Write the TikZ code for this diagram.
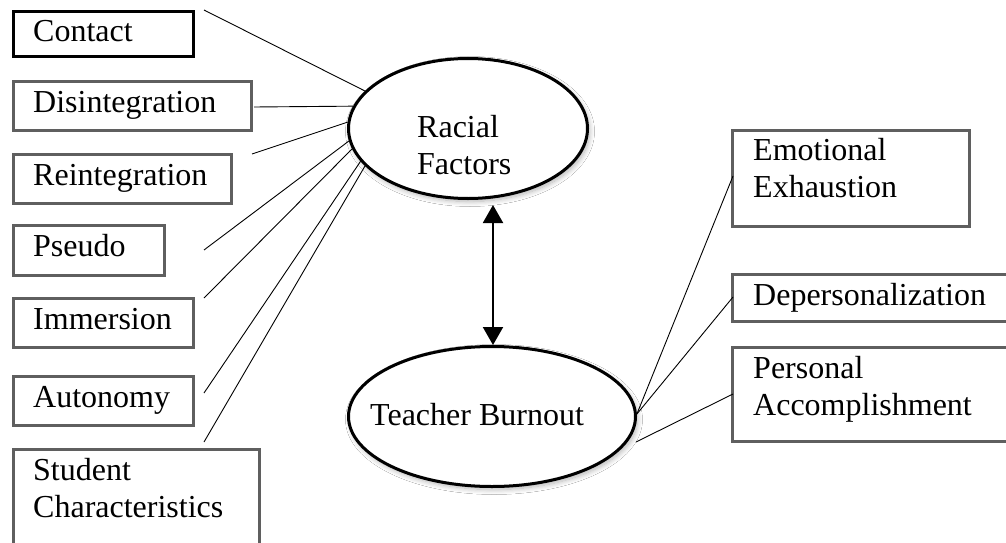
\documentclass[tikz,border=0pt]{standalone}
\usepackage{fontspec}
\setmainfont{Liberation Serif}
\usetikzlibrary{arrows.meta,shapes.geometric,calc,shadows.blur}
\definecolor{boxgray}{RGB}{95,95,95}
\begin{document}
\begin{tikzpicture}[x=1pt,y=-1pt,
  gbox/.style={draw=boxgray, line width=2.6pt, inner sep=0pt, outer sep=0pt, fill=white},
  kbox/.style={draw=black, line width=3pt, inner sep=0pt, outer sep=0pt, fill=white},
  lbl/.style={anchor=base west, inner sep=0pt, font=\fontsize{32}{37}\selectfont},
  oval/.style={ellipse, draw=black, line width=3pt, fill=white, inner sep=0pt,
    blur shadow={shadow xshift=2pt, shadow yshift=-3pt, shadow blur steps=10, shadow opacity=30, shadow blur radius=5pt}},
  conn/.style={draw=black, line width=0.9pt},
  dbl/.style={draw=black, line width=2pt, {Triangle[width=20pt,length=18pt]}-{Triangle[width=20pt,length=18pt]}}
]
\useasboundingbox (0,0) rectangle (1006,543);
\clip (0,0) rectangle (1006,543);
\fill[white] (0,0) rectangle (1006,543);

% left boxes
\node[kbox, minimum width=180pt, minimum height=45pt] (contact) at (103.5,34) {};
\node[gbox, minimum width=238.4pt, minimum height=49.4pt] (disint) at (132.5,106) {};
\node[gbox, minimum width=218.4pt, minimum height=49.4pt] (reint) at (122.5,179) {};
\node[gbox, minimum width=151.4pt, minimum height=50.4pt] (pseudo) at (89,250.5) {};
\node[gbox, minimum width=180.4pt, minimum height=49.4pt] (immersion) at (103.5,323) {};
\node[gbox, minimum width=180.4pt, minimum height=49.4pt] (autonomy) at (103.5,401) {};
\node[gbox, minimum width=246.4pt, minimum height=109.4pt] (student) at (136.5,504) {};

% right boxes
\node[gbox, minimum width=237.4pt, minimum height=96.4pt] (emot) at (851,178.5) {};
\node[gbox, minimum width=286.4pt, minimum height=47.4pt] (depers) at (875.5,298) {};
\node[gbox, minimum width=286.4pt, minimum height=94.4pt] (personal) at (875.5,394.5) {};

% labels
\node[lbl] (tcontact) at (33,42) {Contact};
\node[lbl] (tdisint) at (33,112) {Disintegration};
\node[lbl] (treint) at (33,185) {Reintegration};
\node[lbl] (tpseudo) at (33,256) {Pseudo};
\node[lbl] (timmersion) at (33,329) {Immersion};
\node[lbl] (tautonomy) at (33,407) {Autonomy};
\node[lbl] (tstudent) at (33,480) {\vtop{\hbox{Student}\hbox{Characteristics}}};
\node[lbl] (temot) at (753,160) {\vtop{\hbox{Emotional}\hbox{Exhaustion}}};
\node[lbl] (tdepers) at (753,305) {Depersonalization};
\node[lbl] (tpersonal) at (753,378) {\vtop{\hbox{Personal}\hbox{Accomplishment}}};

% ellipses
\node[oval, minimum width=239pt, minimum height=140pt] (racial) at (468,128.5) {};
\node[oval, minimum width=287pt, minimum height=140pt] (teacher) at (492,416.5) {};
\node[lbl] (tracial) at (417,137) {\vtop{\hbox{Racial}\hbox{Factors}}};
\node[lbl] (tteacher) at (370,425) {Teacher Burnout};

% connectors left
\draw[conn] ($(contact.north east)+(10.5,-1.5)$) -- (racial.160.8);
\draw[conn] ($(disint.east)+(2.3,1)$) -- (racial.169.5);
\draw[conn] ($(reint.north east)+(20.3,-0.3)$) -- (racial.177.4);
\draw[conn] ($(pseudo.east)+(39.3,-0.5)$) -- (racial.186.5);
\draw[conn] ($(immersion.north east)+(10.3,-0.3)$) -- (racial.190.5);
\draw[conn] ($(autonomy.east)+(10.3,-8)$) -- (racial.197.7);
\draw[conn] ($(student.north east)+(-55.7,-7.3)$) -- (racial.200.5);

% connectors right
\draw[conn] (teacher.1.8) -- ($(emot.west)+(0.7,-2.5)$);
\draw[conn] (teacher.1.8) -- ($(depers.west)+(0.7,-1)$);
\draw[conn] ($(teacher.east)+(-1,25.5)$) -- ($(personal.west)+(0.7,-0.5)$);

% double arrow
\draw[dbl] ($(racial.south)+(25,5)$) -- ($(teacher.north)+(1,0)$);
\end{tikzpicture}
\end{document}
